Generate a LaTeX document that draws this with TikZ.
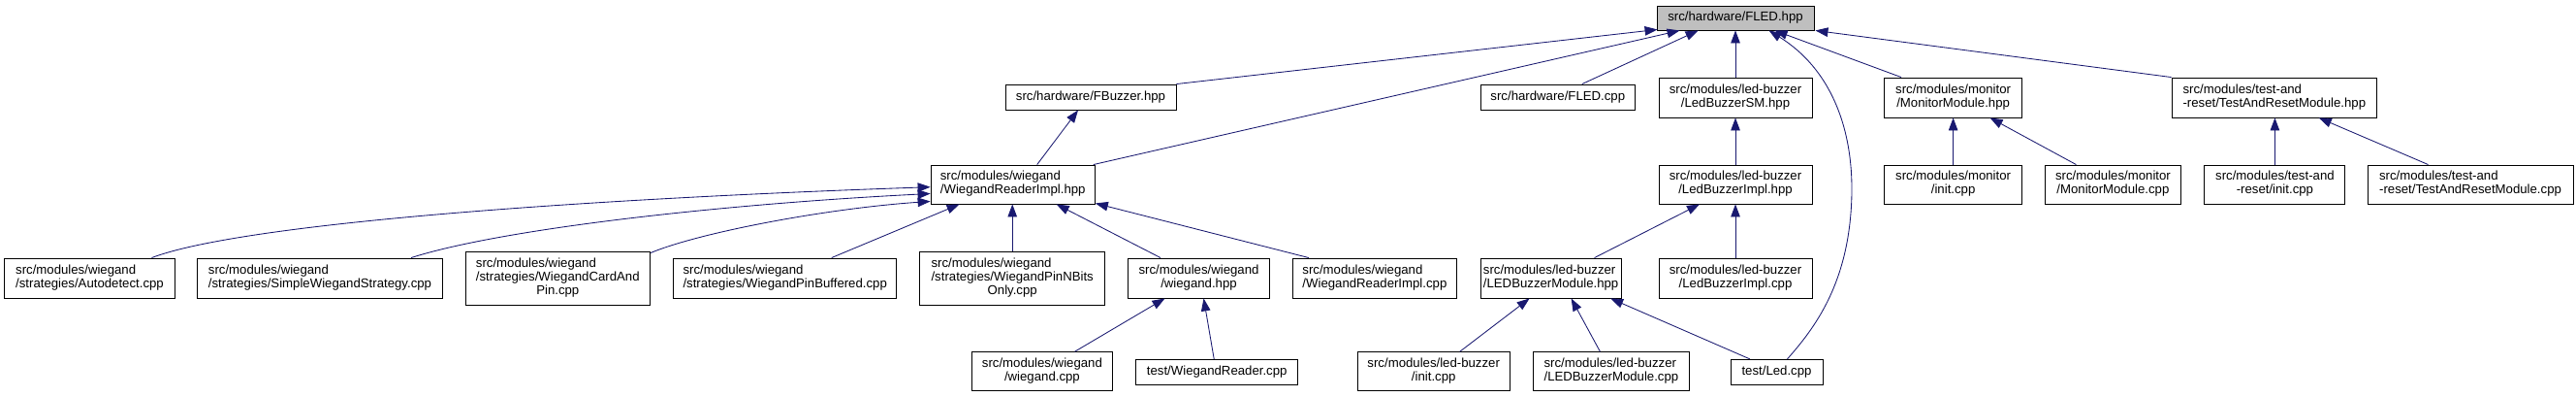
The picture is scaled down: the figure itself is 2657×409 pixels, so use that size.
\documentclass[tikz,border=0pt]{standalone}
\usepackage{fontspec}
\setmainfont{Liberation Sans}
\usetikzlibrary{arrows.meta,calc}
\definecolor{edgeblue}{HTML}{191970}
\definecolor{hdrgray}{HTML}{BFBFBF}
\newcommand{\gfont}{\fontsize{13.2}{14}\selectfont}
\newcommand{\twol}[2]{\begin{tabular}{@{}l@{}}#1\\\multicolumn{1}{@{}c@{}}{#2}\end{tabular}}
\newcommand{\threel}[3]{\begin{tabular}{@{}l@{}}#1\\#2\\\multicolumn{1}{@{}c@{}}{#3}\end{tabular}}
\tikzset{
  bx/.style 2 args={draw=black, line width=0.9pt, rectangle, inner sep=0pt,
    minimum width=#1, minimum height=#2, font=\gfont, fill=white},
  edge/.style={draw=edgeblue, line width=0.85pt,
    -{Triangle[length=13pt,width=9.5pt]}},
}
\begin{document}
\begin{tikzpicture}[x=1pt,y=-1pt]
\useasboundingbox (0,0) rectangle (2657,409);
% row 1
\node[bx={162}{25},fill=hdrgray] (fled) at (1790,18.5) {src/hardware/FLED.hpp};
% row 2
\node[bx={176}{26}] (fbuzzer) at (1125,100) {src/hardware/FBuzzer.hpp};
\node[bx={159.5}{26}] (fledcpp) at (1606.8,100) {src/hardware/FLED.cpp};
\node[bx={158}{41}] (ledsm) at (1790,100.5) {\twol{src/modules/led-buzzer}{/LedBuzzerSM.hpp}};
\node[bx={142}{41}] (monhpp) at (2014.6,100.5) {\twol{src/modules/monitor}{/MonitorModule.hpp}};
\node[bx={211.7}{41}] (tarhpp) at (2345.8,100.5) {\twol{src/modules/test-and}{-reset/TestAndResetModule.hpp}};
% row 3
\node[bx={169.3}{40}] (wri) at (1044.7,190) {\twol{src/modules/wiegand}{/WiegandReaderImpl.hpp}};
\node[bx={158}{40}] (ledimplhpp) at (1790,190) {\twol{src/modules/led-buzzer}{/LedBuzzerImpl.hpp}};
\node[bx={142}{40}] (moninit) at (2014.6,190) {\twol{src/modules/monitor}{/init.cpp}};
\node[bx={140.7}{40}] (monmodcpp) at (2179.4,190) {\twol{src/modules/monitor}{/MonitorModule.cpp}};
\node[bx={145}{40}] (tarinit) at (2346.4,190) {\twol{src/modules/test-and}{-reset/init.cpp}};
\node[bx={212}{40}] (tarmodcpp) at (2548,190) {\twol{src/modules/test-and}{-reset/TestAndResetModule.cpp}};
% row 4
\node[bx={175.7}{41}] (autodetect) at (92.5,286.5) {\twol{src/modules/wiegand}{/strategies/Autodetect.cpp}};
\node[bx={252.6}{41}] (simple) at (330,286.5) {\twol{src/modules/wiegand}{/strategies/SimpleWiegandStrategy.cpp}};
\node[bx={190.5}{55}] (cardpin) at (575.3,286.5) {\threel{src/modules/wiegand}{/strategies/WiegandCardAnd}{Pin.cpp}};
\node[bx={230}{41}] (pinbuf) at (809.7,286.5) {\twol{src/modules/wiegand}{/strategies/WiegandPinBuffered.cpp}};
\node[bx={190.6}{55}] (nbits) at (1044.2,286.5) {\threel{src/modules/wiegand}{/strategies/WiegandPinNBits}{Only.cpp}};
\node[bx={145.8}{41}] (wieghpp) at (1236.5,286.5) {\twol{src/modules/wiegand}{/wiegand.hpp}};
\node[bx={169.8}{41}] (wricpp) at (1417.9,286.5) {\twol{src/modules/wiegand}{/WiegandReaderImpl.cpp}};
\node[bx={145.2}{41}] (ledmodhpp) at (1599.6,286.5) {\twol{src/modules/led-buzzer}{/LEDBuzzerModule.hpp}};
\node[bx={158}{41}] (ledimplcpp) at (1790,286.5) {\twol{src/modules/led-buzzer}{/LedBuzzerImpl.cpp}};
% row 5
\node[bx={145.2}{40}] (wiegcpp) at (1074.9,382.7) {\twol{src/modules/wiegand}{/wiegand.cpp}};
\node[bx={167}{26}] (wrtest) at (1255.2,383.3) {test/WiegandReader.cpp};
\node[bx={157.4}{40}] (ledinit) at (1478.7,382.7) {\twol{src/modules/led-buzzer}{/init.cpp}};
\node[bx={160.7}{40}] (ledmodcpp) at (1661.9,382.7) {\twol{src/modules/led-buzzer}{/LEDBuzzerModule.cpp}};
\node[bx={95}{26}] (ledtest) at (1832.5,383.3) {test/Led.cpp};

% edges to FLED.hpp
\draw[edge] (fbuzzer.north east) -- ($(fled.south west)+(1,-1)$);
\draw[edge] ($(wri.north east)+(-2,0)$) -- ($(fled.south west)+(24,0)$);
\draw[edge] ($(fledcpp.north)+(25,0)$) -- ($(fled.south west)+(43,0)$);
\draw[edge] (ledsm.north) -- (fled.south);
\draw[edge] ($(ledtest.north)+(11,0)$) .. controls (1870,340) and (1900,300) .. (1908,230)
  .. controls (1918,140) and (1890,72) .. ($(fled.south west)+(116,0)$);
\draw[edge] ($(monhpp.north)+(-53.6,0)$) -- ($(fled.south west)+(122,0)$);
\draw[edge] (tarhpp.north west) -- ($(fled.south east)+(1,0)$);
% other edges
\draw[edge] ($(wri.north)+(25,0)$) -- ($(fbuzzer.south)+(-13,0)$);
\draw[edge] (ledimplhpp.north) -- (ledsm.south);
\draw[edge] ($(ledmodhpp.north)+(45,0)$) -- ($(ledimplhpp.south)+(-37,0)$);
\draw[edge] (ledimplcpp.north) -- (ledimplhpp.south);
\draw[edge] (moninit.north) -- (monhpp.south);
\draw[edge] ($(monmodcpp.north)+(-38,0)$) -- ($(monhpp.south)+(38,0)$);
\draw[edge] (tarinit.north) -- (tarinit.north |- tarhpp.south);
\draw[edge] ($(tarmodcpp.north)+(-43.5,0)$) -- ($(tarhpp.south)+(46,0)$);
% edges to WiegandReaderImpl.hpp
\draw[edge] ($(autodetect.north)+(64,0)$) .. controls (250,230) and (600,205) .. ($(wri.west)+(0,2.7)$);
\draw[edge] ($(simple.north)+(94,0)$) .. controls (520,235) and (750,210) .. ($(wri.west)+(0,9.5)$);
\draw[edge] ($(cardpin.north east)+(0,2)$) .. controls (720,240) and (850,215) .. ($(wri.south west)+(0,-3)$);
\draw[edge] ($(pinbuf.north)+(48,0)$) -- ($(wri.south west)+(30,0)$);
\draw[edge] (nbits.north) -- (nbits.north |- wri.south);
\draw[edge] ($(wieghpp.north)+(-39.5,0)$) -- ($(wri.south)+(45,0)$);
\draw[edge] ($(wricpp.north)+(-68,0)$) -- ($(wri.south east)+(0,-1)$);
% row 5 edges
\draw[edge] ($(wiegcpp.north)+(33.6,0)$) -- ($(wieghpp.south)+(-35,0)$);
\draw[edge] ($(wrtest.north)+(-3,0)$) -- ($(wieghpp.south)+(5,0)$);
\draw[edge] ($(ledinit.north)+(27,0)$) -- ($(ledmodhpp.south)+(-22,0)$);
\draw[edge] ($(ledmodcpp.north)+(-11.5,0)$) -- ($(ledmodhpp.south)+(21,0)$);
\draw[edge] ($(ledtest.north)+(-27.7,0)$) -- ($(ledmodhpp.south east)+(-11.5,0)$);
\end{tikzpicture}
\end{document}
